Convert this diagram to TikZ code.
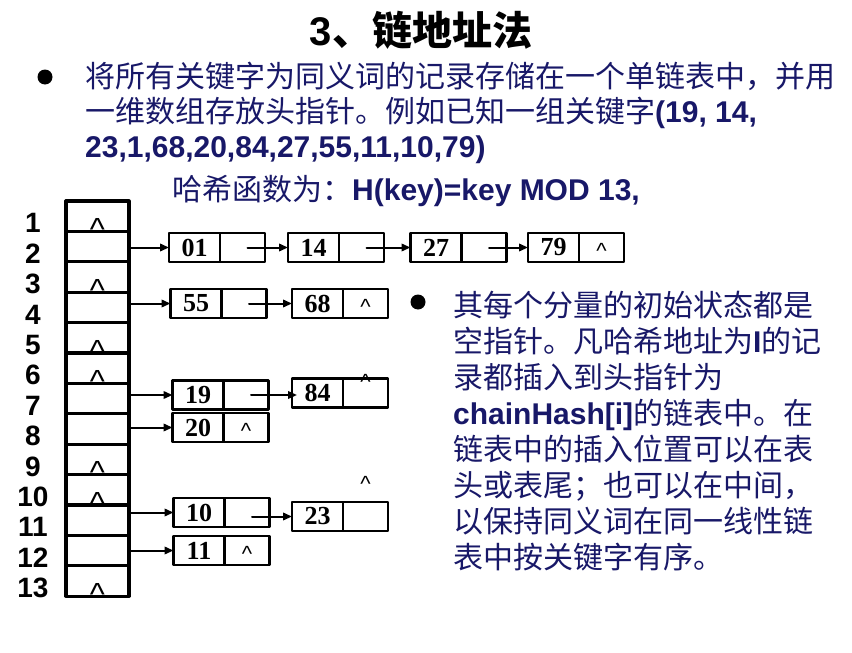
\documentclass[tikz,border=0pt]{standalone}
\usepackage{fontspec}
\setmainfont{Liberation Sans}
\newfontfamily\cjk{Noto Sans CJK SC}
\newfontfamily\tms{Liberation Serif}
\usetikzlibrary{positioning,arrows.meta}
\definecolor{navy}{RGB}{24,24,104}
\newcommand{\zh}[1]{{\cjk\mdseries #1}}

\begin{document}
\begin{tikzpicture}[
	x=1pt, y=-1pt,
	line cap=round, line join=round,
	cell/.style={draw=black, line width=3.2pt, minimum width=63pt, minimum height=30.4pt, inner sep=0pt, outer sep=0pt},
	lbl/.style={inner sep=0pt, font=\bfseries\fontsize{28}{28}\selectfont},
	key/.style={draw=black, line width=2.3pt, minimum width=51pt, minimum height=29pt, inner sep=0pt, outer sep=0pt, font=\tms\bfseries\fontsize{26}{26}\selectfont},
	ptr/.style={draw=black, line width=2.3pt, minimum width=45pt, minimum height=29pt, inner sep=0pt, outer sep=0pt},
	nil/.style={inner sep=0pt, anchor=north, font=\fontsize{22}{22}\selectfont},
	bignil/.style={inner sep=0pt, anchor=north, font=\fontsize{32}{32}\selectfont},
	link/.style={draw=black, line width=2pt, -{Triangle[length=9pt,width=7.5pt]}},
	dot/.style={circle, fill=black, inner sep=0pt, minimum size=15pt},
	txt/.style={anchor=base west, inner sep=0pt, text=navy, font=\bfseries\fontsize{30}{36}\selectfont}
	]
	
	\useasboundingbox (0,0) rectangle (852,653);
	
	\node[font=\bfseries\fontsize{40}{40}\selectfont] (title) at (421,30) {3{\cjk 、链地址法}};
	
	\node[dot] (b1) at (45,77) {};
	\node[txt] (t1) at (85,87) {\zh{将所有关键字为同义词的记录存储在一个单链表中，并用}};
	\node[txt] (t2) at (85,122) {\zh{一维数组存放头指针。例如已知一组关键字}(19, 14,};
	\node[txt] (t3) at (85,157) {23,1,68,20,84,27,55,11,10,79)};
	\node[txt] (t4) at (172,200) {\zh{哈希函数为：}H(key)=key MOD 13,};
	
	\foreach \i in {1,...,13} {
		\node[cell] (c\i) at (97.5,{201+30.4*(\i-0.5)}) {};
		\node[lbl] (l\i) at (33,{208+30.4*(\i-0.5)}) {\i};
	}
	\foreach \i in {1,3,5,6,9,10,13}
		\node[bignil] (w\i) at ([yshift=13pt]c\i.south) {\textasciicircum};
	
	\node[key] (k01) at (194.5,247.5) {01};
	\node[ptr, right=0pt of k01] (p01) {};
	\node[key] (k14) at (313.5,247.5) {14};
	\node[ptr, right=0pt of k14] (p14) {};
	\node[key] (k27) at (436,247.5) {27};
	\node[ptr, right=0pt of k27] (p27) {};
	\node[key] (k79) at (553.5,247.5) {79};
	\node[ptr, right=0pt of k79] (p79) {};
	\node[nil] (n79) at ([yshift=4pt]p79.center) {\textasciicircum};
	\draw[link] (c2.east |- k01.west) -- (k01.west);
	\draw[link] ([xshift=5pt]p01.center) -- (k14.west);
	\draw[link] ([xshift=5pt]p14.center) -- (k27.west);
	\draw[link] ([xshift=5pt]p27.center) -- (k79.west);
	
	\node[key] (k55) at (196,303.5) {55};
	\node[ptr, right=0pt of k55] (p55) {};
	\node[key] (k68) at (317.5,303.5) {68};
	\node[ptr, right=0pt of k68] (p68) {};
	\node[nil] (n68) at ([yshift=4pt]p68.center) {\textasciicircum};
	\draw[link] (c4.east |- k55.west) -- (k55.west);
	\draw[link] ([xshift=5pt]p55.center) -- (k68.west);
	
	\node[key] (k19) at (198,395) {19};
	\node[ptr, right=0pt of k19] (p19) {};
	\node[key] (k84) at (317.5,393) {84};
	\node[ptr, right=0pt of k84] (p84) {};
	\node[nil] (n84) at ([yshift=4pt]p84.north) {\textasciicircum};
	\node[key] (k20) at (198,427.5) {20};
	\node[ptr, right=0pt of k20] (p20) {};
	\node[nil] (n20) at ([yshift=4pt]p20.center) {\textasciicircum};
	\draw[link] (c7.east |- k19.west) -- (k19.west);
	\draw[link] (c8.east |- k20.west) -- (k20.west);
	\draw[link] ([xshift=5pt]p19.center) -- ([xshift=5pt]p19.center -| k84.west);
	
	\node[key] (k10) at (199,512.5) {10};
	\node[ptr, right=0pt of k10] (p10) {};
	\node[key] (k23) at (317.5,516.5) {23};
	\node[ptr, right=0pt of k23] (p23) {};
	\node[nil] (n23) at ([yshift=26pt]p23.north) {\textasciicircum};
	\node[key] (k11) at (199,550.5) {11};
	\node[ptr, right=0pt of k11] (p11) {};
	\node[nil] (n11) at ([yshift=4pt]p11.center) {\textasciicircum};
	\draw[link] (c11.east |- k10.west) -- (k10.west);
	\draw[link] (c12.east |- k11.west) -- (k11.west);
	\draw[link] ([xshift=5pt]p10.center |- k23.west) -- (k23.west);
	
	\node[dot] (b2) at (418,302) {};
	\foreach \ln [count=\i] in {
		{\zh{其每个分量的初始状态都是}},
		{\zh{空指针。凡哈希地址为}I\zh{的记}},
		{\zh{录都插入到头指针为}},
		{chainHash[i]\zh{的链表中。在}},
		{\zh{链表中的插入位置可以在表}},
		{\zh{头或表尾；也可以在中间，}},
		{\zh{以保持同义词在同一线性链}},
		{\zh{表中按关键字有序。}}}
		\node[txt] (r\i) at (453,{316+36*(\i-1)}) {\ln};
\end{tikzpicture}
\end{document}
